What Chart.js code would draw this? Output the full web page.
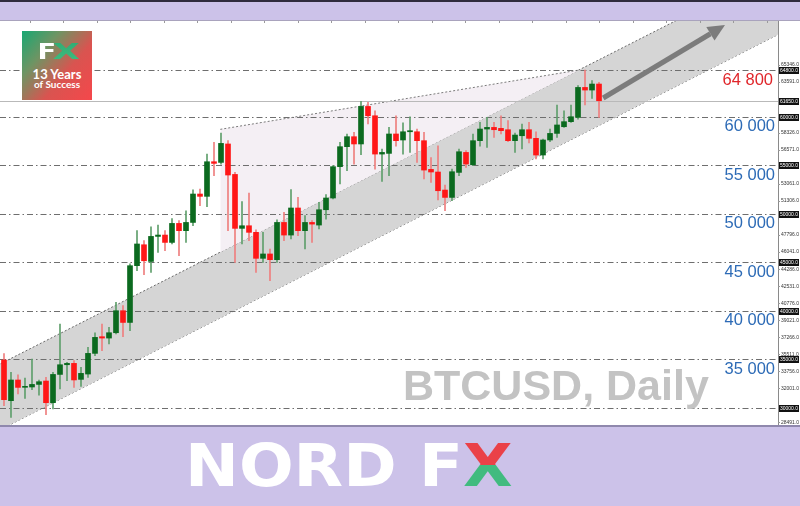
<!DOCTYPE html>
<html>
<head>
<meta charset="utf-8">
<script src="https://cdn.jsdelivr.net/npm/chart.js@4.4.1/dist/chart.umd.min.js"></script>
<style>
  html, body { margin: 0; padding: 0; }
  body { width: 800px; height: 506px; background: #ccc2e9; position: relative; overflow: hidden; font-family: "Liberation Sans", Arial, sans-serif; }
  #topline { position: absolute; left: 0; top: 0; width: 800px; height: 2px; background: #2f2b3d; }
  #wrap { position: absolute; left: 0; top: 20px; width: 800px; height: 405px; background: #fff; border-top: 1px solid #a9a3bd; }
  #wrap canvas { position: absolute; left: 0; top: 0; }
  #bottomline { position: absolute; left: 0; top: 425px; width: 800px; height: 2px; background: #8f88ad; }
  #title { position: absolute; left: 403px; top: 364px; font: bold 43px/43px "Liberation Sans", Arial, sans-serif; color: #c3c3c3; white-space: nowrap; }
  #logo { position: absolute; left: 22px; top: 31px; width: 70px; height: 69px;
          background: linear-gradient(130deg, #17a873 0%, #6f9463 30%, #d95450 62%, #f5474b 100%); color: #fff; }
  #logo .fx { position: absolute; left: 0; width: 70px; top: 11px; text-align: center; font: bold 21px/21px "DejaVu Sans", sans-serif; }
  #logo .fx span { display: inline-block; transform: scaleX(1.3); }
  #logo .yrs { position: absolute; left: 0; width: 70px; top: 37px; text-align: center; font: bold 13px/13px Lato, sans-serif; }
  #logo .suc { position: absolute; left: 0; width: 70px; top: 48px; text-align: center; font: bold 10px/10px Lato, sans-serif; }
  .gx { background: linear-gradient(to bottom, #ea4148 0%, #ea4148 48%, #41bb7f 48%, #41bb7f 100%);
        -webkit-background-clip: text; background-clip: text; color: transparent; }
  #logo .gx { background: linear-gradient(to bottom, #2fae74 0%, #41bb7f 100%); -webkit-background-clip: text; background-clip: text; }
  #brand { position: absolute; left: 185px; top: 438px; font: bold 58px/57px "DejaVu Sans", sans-serif; color: #fff;
           white-space: nowrap; transform: scaleX(1.11); transform-origin: 0 0; }
</style>
</head>
<body>
<div id="topline"></div>
<div id="wrap"><canvas id="chart" width="800" height="404"></canvas></div>
<div id="bottomline"></div>
<div id="title">BTCUSD, Daily</div>
<div id="logo">
  <div class="fx"><span>F<span class="gx">X</span></span></div>
  <div class="yrs">13 Years</div>
  <div class="suc">of Success</div>
</div>
<div id="brand">NORD F<span class="gx">X</span></div>
<script>
// daily candles
const opens = [34918, 30722, 32856, 32100, 32134, 32400, 32750, 30515, 33430, 34430,
  34570, 32920, 33470, 35600, 37320, 37180, 37730, 40000, 38790, 44640,
  46800, 45080, 47660, 47800, 47040, 49000, 48250, 49100, 52030, 51790,
  55360, 55290, 57190, 54050, 48490, 48760, 48080, 45400, 45850, 45260,
  49100, 47800, 50590, 48250, 49100, 48830, 50410, 51620, 54850, 56910,
  57940, 57190, 61060, 60100, 56150, 56220, 58220, 57600, 58450, 58450,
  57530, 54570, 54300, 52440, 51680, 54260, 56320, 55050, 57530, 58730,
  58900, 58800, 58660, 57530, 58040, 58660, 57770, 56050, 57600, 58280,
  58970, 59490, 59930, 63020, 62750, 63370];
const highs = [35567, 33640, 33400, 33060, 35020, 32860, 33120, 33640, 38630, 34670,
  34850, 34150, 36220, 37730, 38630, 38280, 40860, 40520, 44820, 48250,
  47220, 48660, 48840, 48250, 49510, 49280, 50300, 52470, 52550, 56150,
  57350, 58320, 57530, 54260, 51240, 52140, 48350, 48080, 46360, 49380,
  50140, 52480, 51680, 49800, 49280, 51170, 51960, 54950, 57350, 58220,
  58390, 61580, 61480, 60620, 56670, 58900, 60100, 59360, 60000, 58730,
  58390, 55800, 57010, 52960, 54610, 56670, 56500, 58220, 59420, 59930,
  59420, 60100, 59590, 58320, 59250, 59420, 58450, 57700, 58730, 61210,
  60620, 61210, 63200, 64800, 63720, 63540];
const lows = [30206, 29000, 31410, 30960, 31850, 31300, 29280, 29870, 31930, 32780,
  32090, 32200, 33120, 35360, 35880, 36570, 37600, 37320, 37940, 44125,
  43710, 43950, 46010, 46190, 46880, 45670, 47040, 48760, 50830, 50720,
  53920, 55120, 48250, 44980, 46880, 47220, 43950, 44980, 43090, 44980,
  47220, 47390, 47730, 46360, 47040, 48420, 49450, 51520, 53060, 54430,
  55120, 56080, 59250, 54600, 53330, 53920, 56970, 56150, 56330, 55290,
  53580, 53230, 51410, 50310, 51340, 53920, 54780, 54950, 56970, 56840,
  57870, 58220, 57420, 56320, 56670, 57290, 55640, 55640, 57420, 57870,
  58900, 59420, 59760, 61210, 61890, 59930];
const closes = [30825, 32856, 32093, 32200, 32400, 32680, 30515, 33430, 34430, 34570,
  32860, 33540, 35600, 37250, 37180, 37730, 40000, 38790, 44640, 46880,
  45150, 47660, 47800, 47040, 49000, 48250, 49100, 52030, 51790, 55360,
  55190, 57250, 53990, 48490, 48760, 48080, 45400, 45850, 45260, 49100,
  47800, 50590, 48250, 49100, 48930, 50410, 51620, 54850, 56910, 57940,
  57190, 61060, 60100, 56150, 56320, 58220, 57530, 58450, 58560, 57530,
  54500, 54300, 52370, 51680, 54330, 56390, 55120, 57530, 58730, 58900,
  58660, 58560, 57530, 58110, 58660, 57770, 56050, 57600, 58280, 59150,
  59490, 60000, 63020, 62750, 63370, 61650];

const levels = [30000, 35000, 40000, 45000, 50000, 55000, 60000];
const levelText = ['', '35 000', '40 000', '45 000', '50 000', '55 000', '60 000'];
const resistance = 64800;
const resistanceText = '64 800';
const lastPrice = 61650;
const axisTicks = [28491, 30246, 32001, 33756, 35511, 37266, 39021, 40776, 42531, 44286, 46041,
  47796, 49551, 51306, 53061, 54816, 56571, 58326, 60081, 61836, 63591, 65346];

// trend channel, wedge and arrow (x in candle units)
const channelUpper = [{ x: -1, y: 34348 }, { x: 112, y: 75774 }];
const channelLower = [{ x: -1, y: 27565 }, { x: 112, y: 68991 }];
const wedgeTop = [{ x: 30.9, y: 58700 }, { x: 82.2, y: 64820 }];
const wedgeBase = [{ x: 30.9, y: 46030 }, { x: 82.2, y: 64820 }];
const arrowFrom = { x: 85.6, y: 61930 };
const arrowTo = { x: 103, y: 69456 };

const up = opens.map((o, i) => closes[i] >= o);
const bodyColors = up.map(u => u ? '#0b6a1f' : '#ff1717');
const wickColors = up.map(u => u ? '#5f9f6c' : '#ef7f7f');

const decor = {
  id: 'decor',
  beforeDatasetDraw(chart, args) {
    if (args.index !== 4) return;
    const { ctx, chartArea: a, scales: { y } } = chart;
    ctx.save();
    ctx.lineWidth = 1;
    let py = Math.round(y.getPixelForValue(lastPrice)) + 0.5;
    ctx.strokeStyle = '#b9b9b9';
    ctx.beginPath(); ctx.moveTo(a.left, py); ctx.lineTo(a.right, py); ctx.stroke();
    ctx.setLineDash([6, 3, 1.5, 3]);
    ctx.strokeStyle = '#6e6e6e';
    levels.concat([resistance]).forEach(v => {
      const p = Math.round(y.getPixelForValue(v)) + 0.5;
      ctx.beginPath(); ctx.moveTo(a.left, p); ctx.lineTo(a.right, p); ctx.stroke();
    });
    ctx.restore();
  },
  afterDatasetsDraw(chart) {
    const { ctx, chartArea: a, scales: { x, y } } = chart;
    ctx.save();
    // arrow
    const x1 = x.getPixelForValue(arrowFrom.x), y1 = y.getPixelForValue(arrowFrom.y);
    const x2 = x.getPixelForValue(arrowTo.x), y2 = y.getPixelForValue(arrowTo.y);
    const ang = Math.atan2(y2 - y1, x2 - x1);
    const hl = 17, hw = 8;
    const bx = x2 - hl * Math.cos(ang), by = y2 - hl * Math.sin(ang);
    ctx.strokeStyle = '#7c7c7c'; ctx.fillStyle = '#7c7c7c';
    ctx.lineWidth = 5; ctx.lineCap = 'butt';
    ctx.beginPath(); ctx.moveTo(x1, y1); ctx.lineTo(bx, by); ctx.stroke();
    ctx.beginPath();
    ctx.moveTo(x2, y2);
    ctx.lineTo(bx + hw * Math.sin(ang), by - hw * Math.cos(ang));
    ctx.lineTo(bx - hw * Math.sin(ang), by + hw * Math.cos(ang));
    ctx.closePath(); ctx.fill();
    // price labels
    ctx.font = '16.5px "Liberation Sans", Arial, sans-serif';
    ctx.textAlign = 'right'; ctx.textBaseline = 'middle';
    ctx.fillStyle = '#2d6bb6';
    levels.forEach((v, i) => {
      if (levelText[i]) ctx.fillText(levelText[i], a.right - 3, y.getPixelForValue(v) + 10);
    });
    ctx.fillStyle = '#e0262a';
    ctx.fillText(resistanceText, a.right - 5, y.getPixelForValue(resistance) + 10);
    ctx.restore();
  },
  afterDraw(chart) {
    const { ctx, chartArea: a, scales: { x, y } } = chart;
    ctx.save();
    ctx.strokeStyle = '#8a8a8a'; ctx.lineWidth = 1;
    ctx.beginPath(); ctx.moveTo(a.right + 0.5, a.top); ctx.lineTo(a.right + 0.5, a.bottom); ctx.stroke();
    // time ticks along the top edge
    ctx.strokeStyle = '#9a9a9a';
    for (let t = 3.7; t < x.max; t += 4.786) {
      const px = Math.round(x.getPixelForValue(t)) + 0.5;
      ctx.beginPath(); ctx.moveTo(px, a.top); ctx.lineTo(px, a.top + 2); ctx.stroke();
    }
    const boxed = levels.concat([resistance, lastPrice]);
    ctx.font = '5px "Liberation Sans", Arial, sans-serif';
    ctx.textAlign = 'left'; ctx.textBaseline = 'middle';
    ctx.fillStyle = '#333';
    axisTicks.forEach(v => {
      if (boxed.some(b => Math.abs(b - v) < 450)) return;
      const p = y.getPixelForValue(v);
      ctx.beginPath(); ctx.moveTo(a.right, Math.round(p) + 0.5); ctx.lineTo(a.right + 2, Math.round(p) + 0.5); ctx.stroke();
      ctx.fillText(v.toFixed(1), a.right + 3, p);
    });
    boxed.forEach(v => {
      const p = Math.round(y.getPixelForValue(v));
      ctx.fillStyle = '#111';
      ctx.fillRect(a.right + 1, p - 3, 20, 7);
      ctx.fillStyle = '#fff';
      ctx.fillText(v.toFixed(1), a.right + 2, p + 0.5);
    });
    ctx.restore();
  }
};

const lineBase = { type: 'line', pointRadius: 0, borderWidth: 1, tension: 0, borderDash: [2, 2] };

new Chart(document.getElementById('chart'), {
  type: 'bar',
  data: {
    datasets: [
      Object.assign({}, lineBase, { data: channelUpper, borderColor: '#6a6a6a', fill: '+1', backgroundColor: '#d5d5d5', order: 5 }),
      Object.assign({}, lineBase, { data: channelLower, borderColor: '#6a6a6a', fill: false, order: 5 }),
      Object.assign({}, lineBase, { data: wedgeTop, borderColor: '#7a7a7a', fill: '+1', backgroundColor: '#f4eff4', order: 4 }),
      Object.assign({}, lineBase, { data: wedgeBase, borderWidth: 0, fill: false, order: 4 }),
      {
        data: lows.map((l, i) => ({ x: i, y: [l, highs[i]] })),
        backgroundColor: wickColors, barThickness: 1, grouped: false, order: 1
      },
      {
        data: opens.map((o, i) => ({ x: i, y: [o, closes[i]] })),
        backgroundColor: bodyColors, barThickness: 5, grouped: false, minBarLength: 1, order: 0
      }
    ]
  },
  options: {
    responsive: false,
    animation: false,
    devicePixelRatio: 1,
    layout: { padding: { left: 0, right: 22, top: 0, bottom: 0 } },
    scales: {
      x: { type: 'linear', min: -0.571, max: 110.57, offset: false, display: false },
      y: { min: 28216, max: 69869, display: false }
    },
    plugins: { legend: { display: false }, tooltip: { enabled: false } }
  },
  plugins: [decor]
});
</script>
</body>
</html>
